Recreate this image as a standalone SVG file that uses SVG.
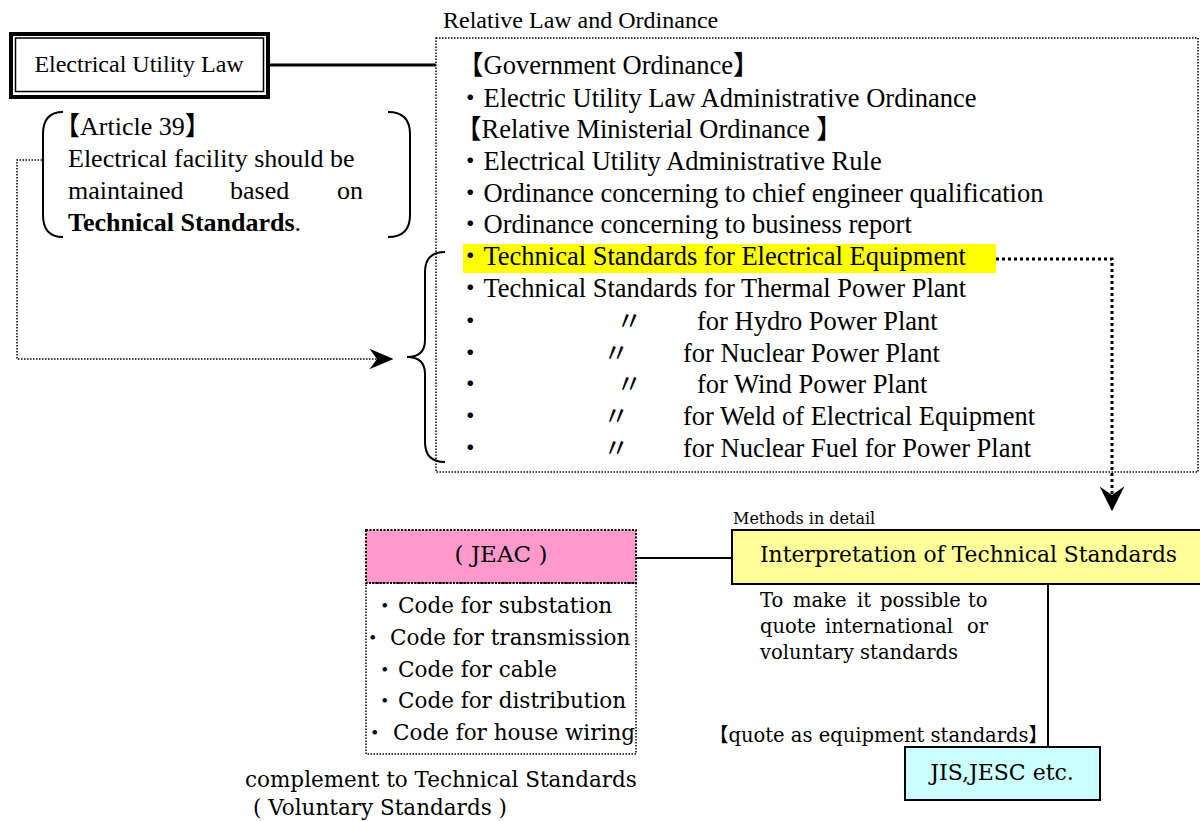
<svg xmlns="http://www.w3.org/2000/svg" width="1200" height="821" viewBox="0 0 1200 821">
<defs>
<style>
.ser{font-family:"Liberation Serif","Noto Sans CJK JP",serif;fill:#000}
.cen{font-family:"DejaVu Serif","Noto Sans CJK JP",serif;fill:#000}
.lst{font-size:26.5px}
.dot{fill:none;stroke:#000;stroke-width:1.5;stroke-dasharray:1.5 1.5}
.solid{fill:none;stroke:#000}
</style>
<marker id="arrL" markerUnits="userSpaceOnUse" markerWidth="24" markerHeight="21" viewBox="0 0 22 19" refX="7" refY="9.5" orient="auto">
<path d="M0,0 L22,9.5 L0,19 L7,9.5 Z" fill="#000"/>
</marker>
<marker id="arrD" markerUnits="userSpaceOnUse" markerWidth="25" markerHeight="25" viewBox="0 0 23 23" refX="8" refY="11.5" orient="auto">
<path d="M0,0 L23,11.5 L0,23 L8,11.5 Z" fill="#000"/>
</marker>
</defs>
<rect width="1200" height="821" fill="#fff"/>

<g id="connectors">
<line x1="270" y1="65" x2="436" y2="65" class="solid" stroke-width="3"/>
<path d="M42,160 H17 V359 H377" class="dot" marker-end="url(#arrL)"/>
<path d="M996,259 H1112 V495" fill="none" stroke="#000" stroke-width="3" stroke-dasharray="3 3" marker-end="url(#arrD)"/>
<line x1="636" y1="558" x2="732" y2="558" class="solid" stroke-width="2"/>
<line x1="1048" y1="584" x2="1048" y2="747" class="solid" stroke-width="2"/>
</g>

<g id="law">
<rect x="11" y="34" width="257" height="63" class="solid" stroke-width="4" fill="#fff"/>
<rect x="15.5" y="38" width="248" height="53.5" class="solid" stroke-width="1.5"/>
<text x="139" y="72" class="ser" font-size="24" text-anchor="middle">Electrical Utility Law</text>
</g>

<g id="article39">
<path d="M63,112 Q43,112 43,134 L43,215 Q43,237 63,237" class="solid" stroke-width="2"/>
<path d="M388,112 Q410,112 410,134 L410,215 Q410,237 388,237" class="solid" stroke-width="2"/>
<text class="ser" font-size="26">
<tspan x="54" y="135">【Article 39】</tspan>
<tspan x="68" y="167">Electrical facility should be</tspan>
<tspan x="68" y="199">maintained</tspan><tspan x="230" y="199">based</tspan><tspan x="337" y="199">on</tspan>
<tspan x="68" y="231"><tspan font-weight="bold">Technical Standards</tspan>.</tspan>
</text>
</g>

<g id="ordinance">
<text x="443" y="28" class="ser" font-size="24">Relative Law and Ordinance</text>
<rect x="436" y="38" width="762" height="434" class="dot"/>
<rect x="463" y="244" width="533" height="29" fill="#ffff00"/>
<g class="ser lst">
<text x="457" y="74">【Government Ordinance】</text>
<text x="457" y="107">・Electric Utility Law Administrative Ordinance</text>
<text x="455" y="138">【Relative Ministerial Ordinance 】</text>
<text x="457" y="170">・Electrical Utility Administrative Rule</text>
<text x="457" y="202">・Ordinance concerning to chief engineer qualification</text>
<text x="457" y="233">・Ordinance concerning to business report</text>
<text x="457" y="265">・Technical Standards for Electrical Equipment</text>
<text x="457" y="297">・Technical Standards for Thermal Power Plant</text>
<text x="457" y="330">・<tspan x="616">〃</tspan><tspan x="697">for Hydro Power Plant</tspan></text>
<text x="457" y="362">・<tspan x="603">〃</tspan><tspan x="683">for Nuclear Power Plant</tspan></text>
<text x="457" y="393">・<tspan x="616">〃</tspan><tspan x="697">for Wind Power Plant</tspan></text>
<text x="457" y="425">・<tspan x="603">〃</tspan><tspan x="683">for Weld of Electrical Equipment</tspan></text>
<text x="457" y="457">・<tspan x="603">〃</tspan><tspan x="683">for Nuclear Fuel for Power Plant</tspan></text>
</g>
<path d="M445,252 Q425,252 425,272 L425,340 Q425,357 407,357 Q425,357 425,374 L425,442 Q425,462 445,462" class="solid" stroke-width="2"/>
</g>

<g id="jeac">
<rect x="366" y="530" width="270" height="53" fill="#ff99cc" stroke="#000" stroke-width="2" stroke-dasharray="2 1.5"/>
<text x="501" y="562" class="cen" font-size="23" text-anchor="middle">( JEAC )</text>
<rect x="366" y="583" width="270" height="171" class="dot"/>
<g class="cen" font-size="21.5">
<text x="374" y="613">・<tspan x="398">Code for substation</tspan></text>
<text x="362" y="645">・<tspan x="390">Code for transmission</tspan></text>
<text x="374" y="677">・<tspan x="398">Code for cable</tspan></text>
<text x="374" y="708">・<tspan x="398">Code for distribution</tspan></text>
<text x="364" y="740">・<tspan x="393">Code for house wiring</tspan></text>
</g>
<text x="245" y="787" class="cen" font-size="21.5">complement to Technical Standards</text>
<text x="253" y="815" class="cen" font-size="21.5">( Voluntary Standards )</text>
</g>

<g id="interpretation">
<text x="733" y="524" class="cen" font-size="16">Methods in detail</text>
<rect x="732" y="530" width="470" height="54" fill="#ffff99" stroke="#000" stroke-width="2"/>
<text x="760" y="562" class="cen" font-size="21.8">Interpretation of Technical Standards</text>
<g class="cen" font-size="19.5">
<text y="607"><tspan x="760">To</tspan><tspan x="793">make</tspan><tspan x="857">it</tspan><tspan x="880">possible</tspan><tspan x="968">to</tspan></text>
<text y="633"><tspan x="760">quote</tspan><tspan x="825">international</tspan><tspan x="967">or</tspan></text>
<text x="760" y="659">voluntary standards</text>
</g>
<text x="709" y="742" class="cen" font-size="19.5">【quote as equipment standards】</text>
</g>

<g id="jis">
<rect x="905" y="747" width="195" height="53" fill="#ccffff" stroke="#000" stroke-width="2"/>
<text x="1002" y="780" class="cen" font-size="22" text-anchor="middle">JIS,JESC etc.</text>
</g>
</svg>
